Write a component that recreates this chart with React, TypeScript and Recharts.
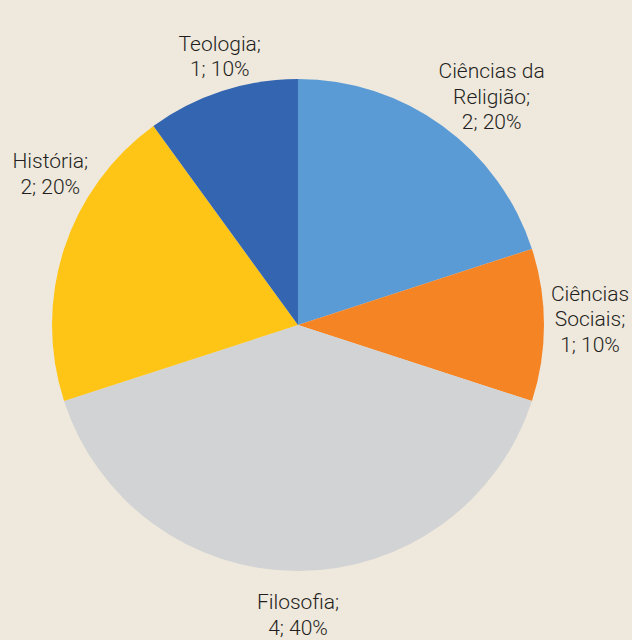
import React from "react";
import { PieChart, Pie, Cell } from "recharts";

const categories = ["Ciências da Religião", "Ciências Sociais", "Filosofia", "História", "Teologia"];
const counts = [2, 1, 4, 2, 1];
const percents = [20, 10, 40, 20, 10];
const labelLines = [
  ["Ciências da", "Religião;", "2; 20%"],
  ["Ciências", "Sociais;", "1; 10%"],
  ["Filosofia;", "4; 40%"],
  ["História;", "2; 20%"],
  ["Teologia;", "1; 10%"],
];
const colors = ["#5b9bd5", "#f58424", "#d1d3d4", "#fec516", "#3465b0"];

// label nudges (styling only)
const nudges: [number, number][] = [
  [22, 8],
  [0, -6],
  [0, -2],
  [30, -61],
  [12, 9],
];

const data = categories.map((name, i) => ({
  name,
  value: counts[i],
  pct: percents[i],
  lines: labelLines[i],
  idx: i,
}));

const RAD = Math.PI / 180;
const LINE_H = 25.5;

const renderLabel = (props: any) => {
  const { cx, cy, midAngle, outerRadius, index } = props;
  const r = outerRadius + 46;
  const [nx, ny] = nudges[index];
  const x = cx + r * Math.cos(-midAngle * RAD) + nx;
  const y = cy + r * Math.sin(-midAngle * RAD) + ny;
  const lines: string[] = data[index].lines;
  const first = y - ((lines.length - 1) * LINE_H) / 2 + 7;
  return (
    <text
      key={"lbl" + index}
      textAnchor="middle"
      fontFamily="Roboto, 'Liberation Sans', Arial, sans-serif"
      fontWeight={300}
      fontSize={21}
      fill="#231f20"
    >
      {lines.map((l, j) => (
        <tspan key={j} x={x} y={first + j * LINE_H}>
          {l}
        </tspan>
      ))}
    </text>
  );
};

export default function App() {
  return (
    <div
      style={{
        position: "absolute",
        left: 0,
        top: 0,
        width: 632,
        height: 640,
        background: "#efe8dd",
        overflow: "hidden",
      }}
    >
      <PieChart width={632} height={640} margin={{ top: 0, right: 0, bottom: 0, left: 0 }}>
        <Pie
          data={data}
          dataKey="value"
          nameKey="name"
          cx={298}
          cy={325}
          outerRadius={246}
          startAngle={90}
          endAngle={-270}
          stroke="none"
          label={renderLabel}
          labelLine={false}
          isAnimationActive={false}
        >
          {data.map((d, i) => (
            <Cell key={d.name} fill={colors[i]} />
          ))}
        </Pie>
      </PieChart>
    </div>
  );
}
